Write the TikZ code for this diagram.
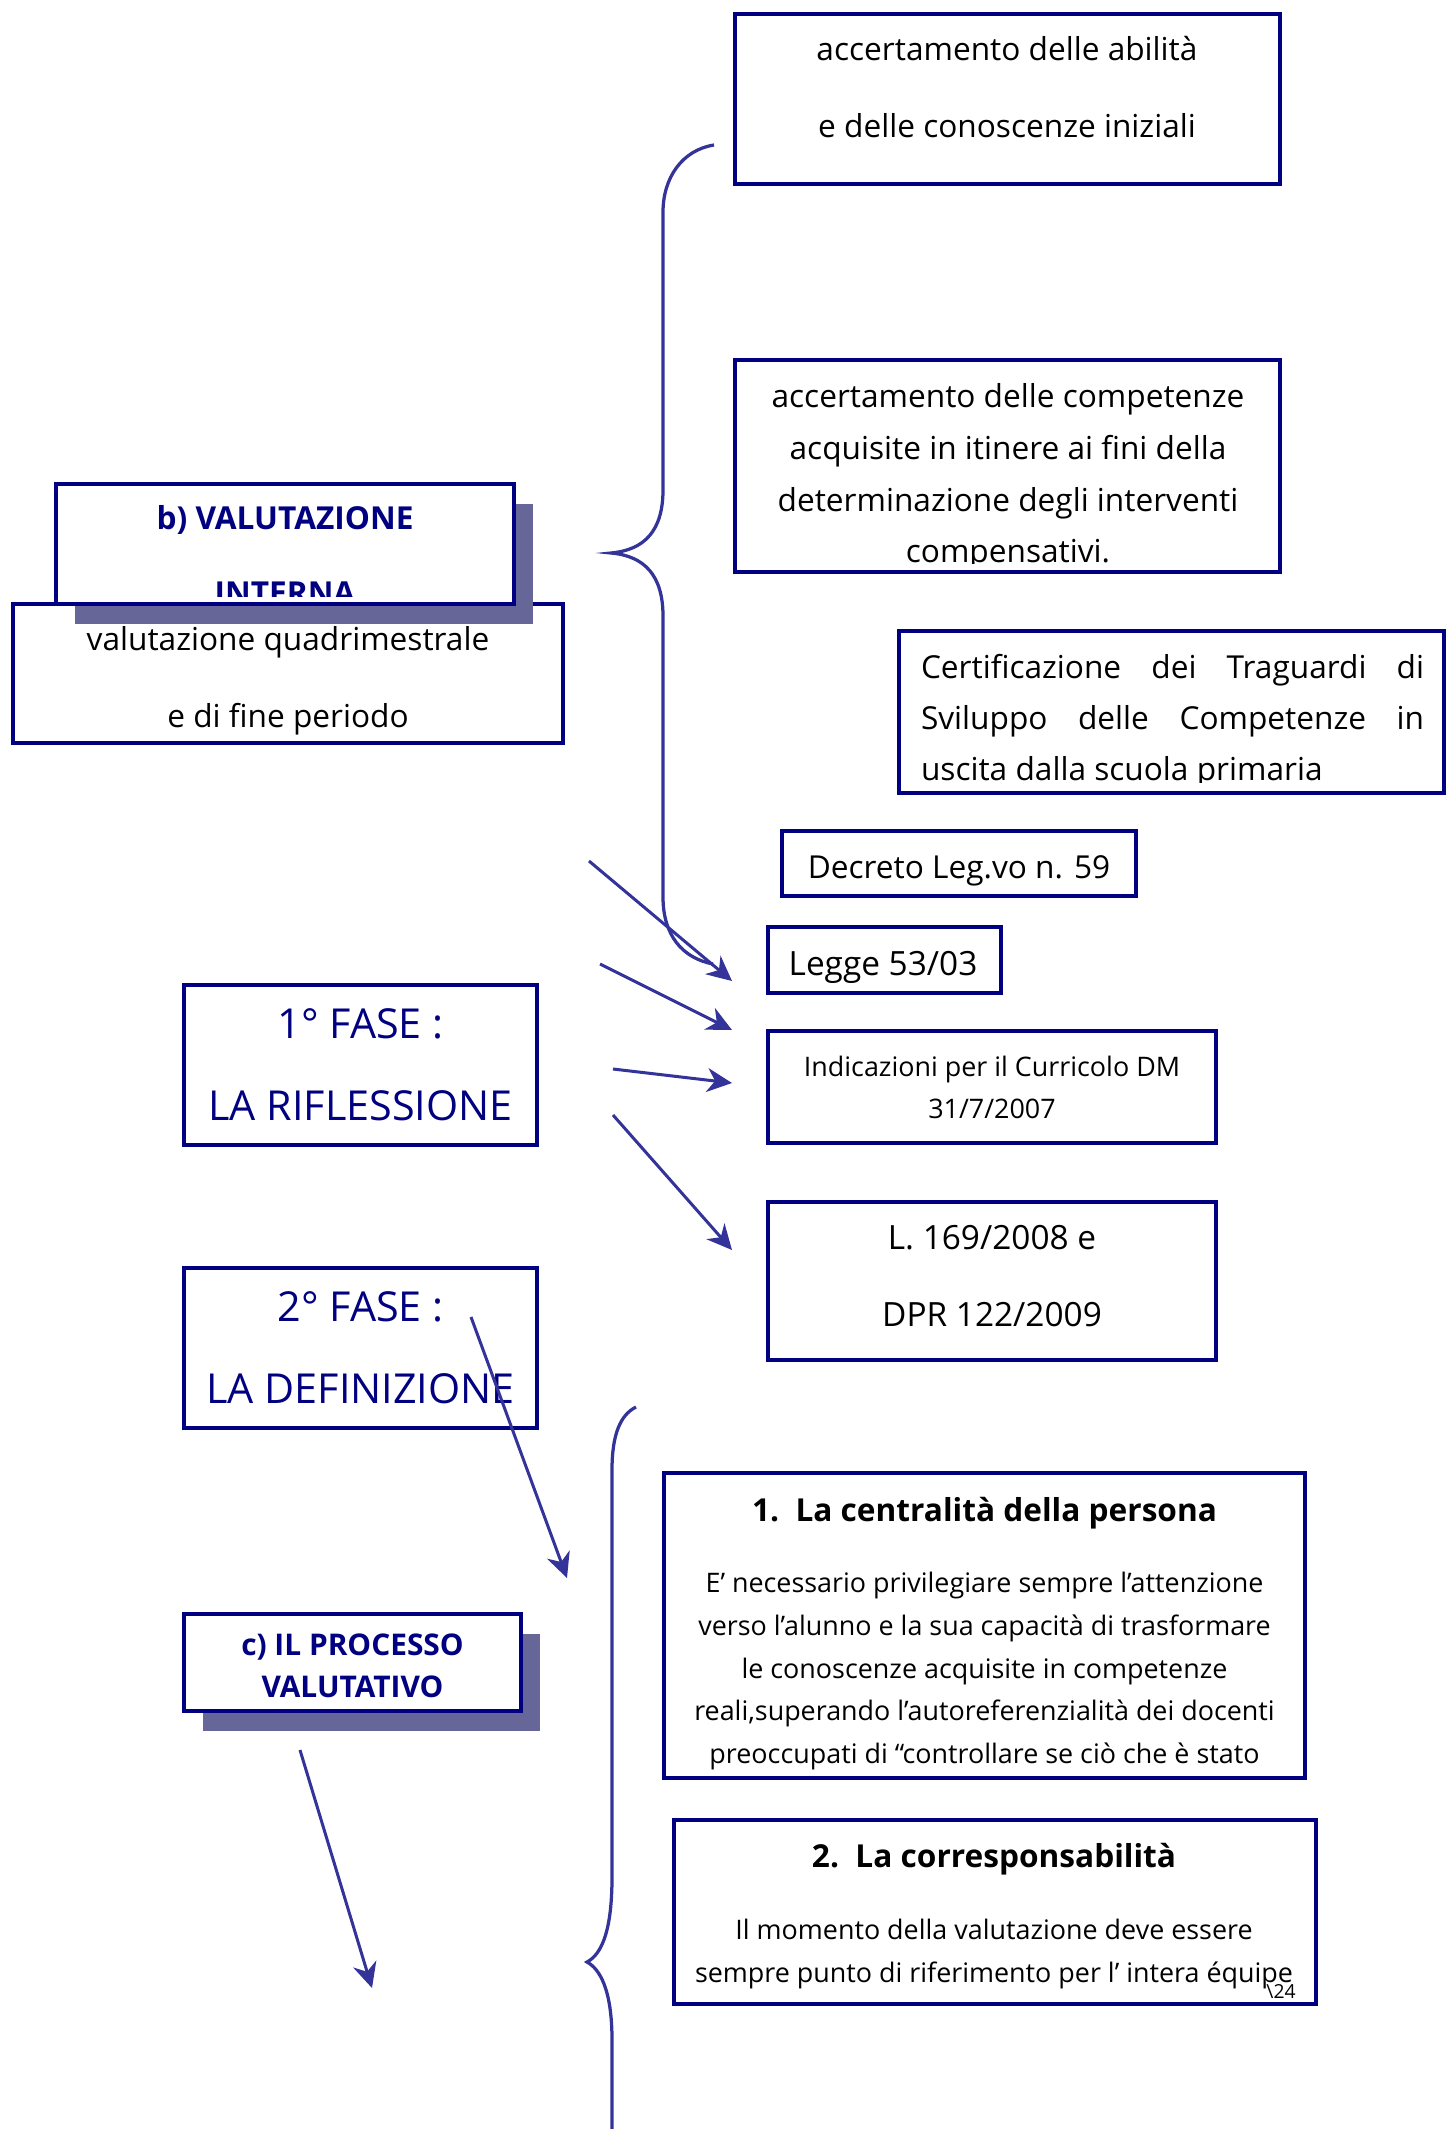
\documentclass[tikz,border=0pt]{standalone}
\usepackage{fontspec}
\setmainfont{Open Sans}
\usetikzlibrary{calc,positioning,arrows.meta,shadows}

\definecolor{navyc}{RGB}{0,0,128}
\definecolor{arrowc}{RGB}{51,51,153}
\definecolor{shadowc}{RGB}{102,102,153}

\tikzset{
  boxframe/.style={draw=navyc,line width=0.8mm,fill=white,inner sep=0pt},
  shadowbox/.style={boxframe,drop shadow={shadow xshift=3.8mm,shadow yshift=-4mm,fill=shadowc,opacity=1}},
  bodytxt/.style={align=center,inner sep=0pt,font=\fontsize{18}{#1}\selectfont},
  bodytxt/.default=43.7,
  lawtxt/.style={align=center,inner sep=0pt,font=\fontsize{19}{43.7}\selectfont},
  fasetxt/.style={align=center,inner sep=0pt,text=navyc,font=\fontsize{23.5}{46.5}\selectfont},
  headtxt/.style={align=center,inner sep=0pt,text=navyc,font=\fontsize{17}{23.8}\selectfont\bfseries},
  titletxt/.style={inner sep=0pt,font=\fontsize{18}{20}\selectfont\bfseries},
  smalltxt/.style={align=center,inner sep=0pt,font=\fontsize{15.3}{#1}\selectfont},
  smalltxt/.default=24.2,
  link/.style={draw=arrowc,line width=0.6mm,-{Stealth[length=5mm,width=4.8mm,inset=1.6mm]}},
  bracecurve/.style={draw=arrowc,line width=0.65mm}
}

\begin{document}
\begin{tikzpicture}[x=0.2mm,y=-0.2mm]
  \useasboundingbox (0,0) rectangle (1446,2129);
  % braces
  \draw[bracecurve] (714,145) .. controls (682,150) and (663,178) .. (663,212)
    -- (663,490) .. controls (663,530) and (645,550) .. (611,553)
    .. controls (645,556) and (663,576) .. (663,616)
    -- (663,897) .. controls (663,935) and (682,958) .. (713,964);
  \draw[bracecurve] (636,1407) .. controls (620,1415) and (612,1435) .. (612,1470)
    -- (612,1877) .. controls (612,1935) and (600,1955) .. (587,1962)
    .. controls (600,1969) and (612,1990) .. (612,2040) -- (612,2129);

  % right column
  \node[boxframe,minimum width=109mm,minimum height=34mm] (abil) at (1007.5,99) {};
  \node[bodytxt] (abil-t) at (1007,87) {accertamento delle abilità\\e delle conoscenze iniziali};
  \node[boxframe,minimum width=109mm,minimum height=42.4mm] (comp) at (1007.5,466) {};
  \begin{scope}
    \clip (735,360) rectangle (1280,563);
    \node[bodytxt=29.5] (comp-t) at (1008,477) {accertamento delle competenze\\acquisite in itinere ai fini della\\determinazione degli interventi\\compensativi.};
  \end{scope}
  \node[boxframe,minimum width=109mm,minimum height=32.4mm] (cert) at (1171.5,712) {};
  \begin{scope}
    \clip (899,631) rectangle (1444,782);
    \node[bodytxt=29,align=justify,text width=100.6mm] (cert-t) at (1172.5,721) {Certificazione dei Traguardi di\linebreak Sviluppo delle Competenze in\linebreak uscita dalla scuola primaria};
  \end{scope}
  \node[boxframe,minimum width=70.8mm,minimum height=13mm] (decreto) at (959,863.5) {};
  \node[bodytxt] (decreto-t) at (959,871) {Decreto Leg.vo n. 59};
  \node[boxframe,minimum width=46.6mm,minimum height=13.2mm] (legge) at (884.5,960) {};
  \node[lawtxt] (legge-t) at (883,967) {Legge 53/03};
  \node[boxframe,smalltxt=23.8,minimum width=89.6mm,minimum height=22.4mm] (indic) at (992,1087) {Indicazioni per il Curricolo DM\\31/7/2007};
  \node[boxframe,minimum width=89.6mm,minimum height=31.6mm] (lex) at (992,1281) {};
  \node[lawtxt] (lex-t) at (992,1276) {L. 169/2008 e\\DPR 122/2009};

  % left column
  \node[boxframe,minimum width=110mm,minimum height=27.8mm] (valq) at (288,673) {};
  \node[bodytxt] (valq-t) at (288,681) {valutazione quadrimestrale\\e di fine periodo};
  \node[shadowbox,minimum width=91.6mm,minimum height=24mm] (valint) at (285,544) {};
  \begin{scope}
    \clip (56,484) rectangle (514,596);
    \node[headtxt,font=\fontsize{18}{42.5}\selectfont\bfseries] (valint-t) at (285,555) {b) VALUTAZIONE\\INTERNA};
  \end{scope}
  \node[boxframe,fasetxt,minimum width=70.6mm,minimum height=32mm] (fase1) at (360.5,1065) {1° FASE :\\LA RIFLESSIONE};
  \node[boxframe,fasetxt,minimum width=70.6mm,minimum height=32mm] (fase2) at (360.5,1348) {2° FASE :\\LA DEFINIZIONE};
  \node[shadowbox,minimum width=67.4mm,minimum height=19.4mm] (proc) at (352.5,1662.5) {};
  \node[headtxt] (proc-t) at (352.5,1666) {c) IL PROCESSO\\VALUTATIVO};

  % principles
  \node[boxframe,minimum width=128.2mm,minimum height=61mm] (cent) at (984.5,1625.5) {};
  \node[titletxt] (cent-h) at (984.5,1513) {1.~~La centralità della persona};
  \node[smalltxt] (cent-t) at (984.5,1671) {E’ necessario privilegiare sempre l’attenzione\\verso l’alunno e la sua capacità di trasformare\\le conoscenze acquisite in competenze\\reali,superando l’autoreferenzialità dei docenti\\preoccupati di “controllare se ciò che è stato};
  \node[boxframe,minimum width=128.4mm,minimum height=36.8mm] (corr) at (995,1912) {};
  \node[titletxt] (corr-h) at (994,1859) {2.~~La corresponsabilità};
  \node[smalltxt=24.7] (corr-t) at (994,1954) {Il momento della valutazione deve essere\\sempre punto di riferimento per l’ intera équipe};
  \node[inner sep=0pt,font=\fontsize{11}{11}\selectfont] (pagenum) at (1281,1991) {\textbackslash 24};

  % arrows
  \coordinate (rifA) at (589,861);  \coordinate (rifA-end) at (732,981);
  \coordinate (rifB) at (600,964);  \coordinate (rifB-end) at (732,1030);
  \coordinate (rifC) at (613,1069); \coordinate (rifC-end) at (732,1083);
  \coordinate (rifD) at (613,1115); \coordinate (rifD-end) at (732,1250);
  \coordinate (defS) at (471,1317); \coordinate (defE) at (567,1578);
  \coordinate (procS) at (300,1750); \coordinate (procE) at (372,1988);
  \draw[link] (rifA) -- (rifA-end);
  \draw[link] (rifB) -- (rifB-end);
  \draw[link] (rifC) -- (rifC-end);
  \draw[link] (rifD) -- (rifD-end);
  \draw[link] (defS) -- (defE);
  \draw[link] (procS) -- (procE);
\end{tikzpicture}
\end{document}
